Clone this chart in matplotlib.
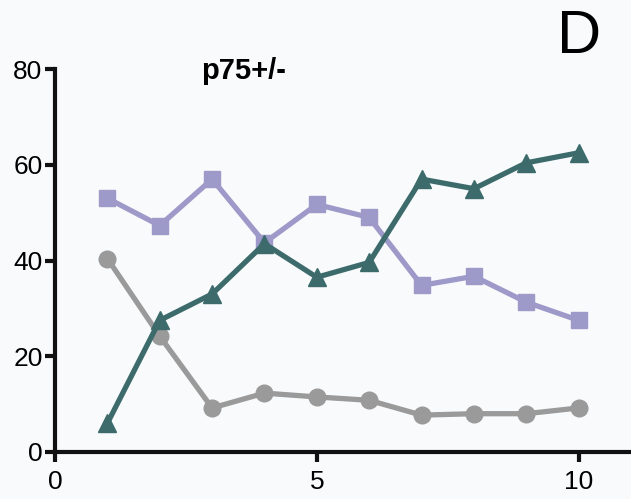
import matplotlib
matplotlib.use('Agg')
import matplotlib.pyplot as plt

plt.rcParams['font.family'] = ['Liberation Sans', 'DejaVu Sans']

x = [1, 2, 3, 4, 5, 6, 7, 8, 9, 10]
circles = [40.4, 24.2, 9.2, 12.3, 11.5, 10.8, 7.7, 8.0, 8.0, 9.2]
squares = [53.0, 47.3, 57.0, 43.7, 51.7, 49.0, 34.8, 36.7, 31.3, 27.5]
triangles = [6.0, 27.5, 33.0, 43.5, 36.5, 39.6, 57.0, 55.0, 60.4, 62.5]

bg = '#f8fafc'
fig = plt.figure(figsize=(6.31, 4.99), dpi=100, facecolor=bg)
ax = fig.add_axes([0.0872, 0.0942, 0.9128, 0.7675], facecolor=bg)

ax.plot(x, circles, '-o', color='#9a9a9a', lw=3.8, ms=12, clip_on=False)
ax.plot(x, squares, '-s', color='#9d99c8', lw=3.8, ms=12, clip_on=False)
ax.plot(x, triangles, '-^', color='#3d6b6c', lw=3.8, ms=13, clip_on=False)

ax.set_xlim(0, 11)
ax.set_ylim(0, 80)
ax.set_xticks([0, 5, 10])
ax.set_yticks([0, 20, 40, 60, 80])
for s in ['top', 'right']:
    ax.spines[s].set_visible(False)
for s in ['left', 'bottom']:
    ax.spines[s].set_linewidth(3)
    ax.spines[s].set_color('#111111')
ax.tick_params(width=3, length=7, labelsize=19, color='#111111', pad=2)
ax.tick_params(axis='x', pad=6)

ax.text(0.327, 0.995, 'p75+/-', transform=ax.transAxes, fontsize=21,
        fontweight='bold', ha='center', va='center')
fig.text(0.918, 0.925, 'D', fontsize=44, ha='center', va='center')

fig.savefig('out.png', dpi=100, facecolor=bg)
